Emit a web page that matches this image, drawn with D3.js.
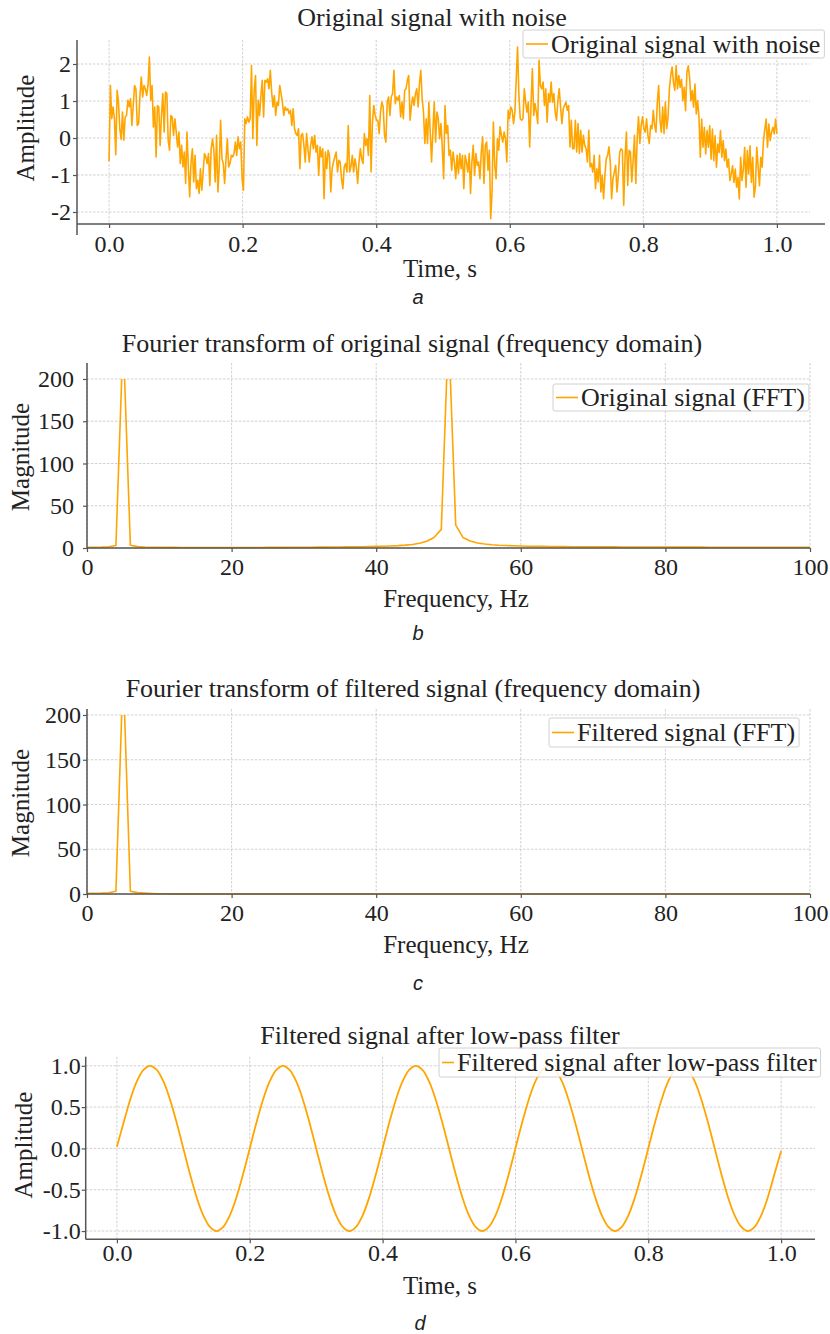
<!DOCTYPE html>
<html>
<head>
<meta charset="utf-8">
<script src="https://cdn.jsdelivr.net/npm/d3@7"></script>
<style>
  body { margin: 0; background: #fff; }
  svg { display: block; font-family: "Liberation Serif", "Times New Roman", serif; }
  .grid line { stroke: #c4c4c4; stroke-width: 0.8; stroke-dasharray: 2.5 1.5; }
  .spine { stroke: #555; stroke-width: 1.5; }
  .tick line { stroke: #555; stroke-width: 1.2; }
  .tick text { font-family: "Liberation Serif", "Times New Roman", serif; font-size: 24px; fill: #222; }
  .title, .legend text { font-size: 26px; fill: #222; }
  .axis-label { font-size: 25px; fill: #222; }
  .sub { font-family: "Liberation Sans", Arial, sans-serif; font-style: italic; font-size: 20px; fill: #222; }
</style>
</head>
<body>
<svg id="chart" width="830" height="1334"></svg>
<script>
// --- data ---

// a: noisy signal, ~500 samples over 1 s
const noisyAmp = [
  -0.63, 1.42, 0.52, 0.84, 0.52, -0.45, 1.29, 0.97, 0.25, -0.04,
  0.7, -0.06, 0.57, 0.61, 1.02, 0.84, 1.06, 0.34, 0.88, 1.42,
  1.33, 0.34, 0.39, 1.15, 1.65, 1.11, 1.42, 1.33, 1.15, 1.42,
  2.19, 1.02, 1.42, 0.3, 0.84, -0.51, 0.88, 0.84, -0.2, 0.61,
  1.2, 0.16, 1.24, 1.2, -0.06, -0.33, 0.61, 0.57, 0.07, 0.52,
  0.16, -0.24, 0.16, -0.69, -0.2, -0.78, -0.38, -1.23, 0.16, -0.78,
  -1.59, -0.65, -0.29, -1.19, -0.47, -1.37, -1.14, -1.5, -0.83, -1.41,
  -0.92, -0.42, -0.51, -0.69, -0.42, -1.28, -0.29, -0.02, -0.33, -1.19,
  0.07, -1.46,
  -0.78, 0.48, -0.56, -0.69, -1.23, -0.6, -0.02, -0.78, -0.69, -0.47,
  -0.51, -0.42, -0.11, -0.47, 0.03, -0.29, -0.11, -1.1, -1.41, 0.52,
  0.39, 0.57, 0.43, 0.52, 1.96, -0.02, 1.29, 1.69, -0.2, 1.02,
  0.61, 1.15, 1.56, 0.57, 1.56, 1.51, 1.6, 1.33, 1.83, 1.24,
  0.84, 1.15, 0.61, 0.97, 0.88, 1.42, 1.2, 0.97, 0.61, 0.84,
  0.75, 0.79, 0.66, 0.75, 0.34, 0.79, 0.25, 0.12, 0.07, 0.25,
  -0.83, 0.07, 0.12, -0.2, -0.65, 0.12, -0.29, -0.65, -0.2, 0.03,
  -0.29, 0.07, -0.38, -0.2, -1.01, -0.24, -0.51, -0.29, -1.64, -0.38,
  -0.83, -0.33, -0.47,
  -1.46, -0.83, -0.65, -0.51, -0.38, -0.92, -0.6, -0.65, -1.1, -1.37,
  -0.78, -0.69, -0.92, 0.34, -0.92, -0.78, -0.47, -0.92, -0.56, -0.78,
  -1.23, -0.65, -0.29, -0.56, -0.69, 0.12, -0.2, -0.02, -0.47, 1.15,
  -0.92, 0.43, 0.88, 0.61, 0.48, 0.48, 0.12, 0.7, 0.97, 0.84,
  0.07, -0.11, 0.97, 1.11, 0.61, 1.11, 1.2, 1.83, 0.93, 1.11,
  1.02, 1.15, 0.57, 0.97, 0.52, 1.29, 1.33, 1.56, 1.69, 0.48,
  0.88, 1.11, 0.88, 1.2, 1.33, 0.84, 1.47, 1.83, 1.06, 0.7,
  -0.15, 0.52, -0.15, 0.97, 0.16, -0.65, 0.21, 0.97, -0.11, 0.7,
  0.52, -0.02, 0.39, -0.29, -1.1, 0.88, 0.12,
  0.34, -0.47, -0.33, -0.87, -0.38, -0.65, -1.1, -0.47, -0.96, -0.42,
  -0.83, -0.47, -1.37, -0.47, -0.65, -0.92, -0.42, -1.5, -0.65, -0.2,
  -1.01, -0.42, -0.74, -0.65, -1.1, -0.38, 0.03, -1.23, -0.2, -0.11,
  -0.87, -0.33, -2.18, -1.46, 0.43, -0.74, -1.1, -0.02, -0.33, 0.3,
  0.07, -0.11, 0.16, -0.02, -0.65, 0.75, 0.52, 0.84, 0.75, 0.39,
  0.7, 1.6, 2.46, 1.15, 0.52, 0.48, 0.52, 1.33, 0.97, 0.7,
  0.97, -0.24, 0.88, 1.87, 0.61, 0.93, 0.7, 0.39, 2.1, 1.42,
  1.33, 1.51, 0.88, 1.33, 0.43, 1.2, 0.97, 1.51, 0.97, 1.2,
  0.7, 0.48, 1.02, 1.33, 0.84, 0.39, 0.79,
  0.88, 0.97, 0.75, 0.88, -0.24, 0.48, -0.29, -0.29, 0.48, -0.38,
  0.39, -0.42, 0.21, -0.38, 0.07, -0.2, -0.29, -0.65, 0.21, -0.78,
  -0.69, -0.92, -0.47, -1.37, -0.83, -1.19, -0.47, -1.46, -1.01, -1.64,
  -1.01, -0.56, -0.47, -0.24, -0.65, -1.64, -1.1, -0.92, -0.74, -1.46,
  -1.01, -0.38, -0.29, -0.33, -1.82, -0.51, 0.16, -1.28, -0.33, -0.38,
  -1.19, -0.6, 0.07, -1.23, -0.02, 0.57, -0.15, 0.34, 0.57, 0.25,
  0.16, 0.52, 0.07, -0.15, 0.34, 0.25, 0.75, 0.34, 0.16, 0.97,
  1.42, 0.48, 0.16, 0.84, 0.12, 0.97, 0.25, 0.57, 1.33, 1.69,
  1.92, 1.51, 1.29, 1.96, 1.33, 1.69,
  1.37, 1.59, 1.01, 1.37, 0.74, 1.77, 1.95, 1.64, 1.01, 1.28,
  0.83, 1.46, 0.65, 1.01, 0.56, -0.52, 0.51, -0.25, 0.29, -0.43,
  0.2, -0.25, 0.33, -0.57, 0.24, -0.61, 0.06, -0.79, -0.16, -0.39,
  0.2, -0.52, -0.07, -0.61, -0.3, -0.79, -0.57, -1.15, -0.97, -0.75,
  -1.2, -0.84, -1.33, -1.06, -1.65, -0.52, -1.15, -0.84, -0.25, -1.33,
  -0.34, -0.97, -0.21, -1.2, -0.52, -1.6, -1.33, -0.25, -0.75, -1.29,
  -0.52, -0.79, -0.07, 0.24, 0.51, -0.25, 0.38, -0.07, 0.15, 0.29,
  0.11, 0.51, 0.11
];
const noisyTime = noisyAmp.map((_, i) => i / (noisyAmp.length - 1));

// b, c: FFT magnitude, 1 Hz bins from 0 to 100 Hz
const freqBins = d3.range(0, 101);
const origFftMag = [
  0.8, 0.9, 1.0, 1.4, 3.0, 250, 3.2, 1.6, 1.1, 0.9,
  0.8, 0.7, 0.7, 0.6, 0.6, 0.6, 0.6, 0.6, 0.6, 0.6,
  0.6, 0.6, 0.6, 0.6, 0.6, 0.7, 0.7, 0.7, 0.8, 0.8,
  0.9, 0.9, 1.0, 1.0, 1.1, 1.2, 1.3, 1.4, 1.5, 1.7,
  1.9, 2.1, 2.4, 2.8, 3.4, 4.2, 5.6, 8.0, 12.5, 22,
  260, 27, 12.5, 8.2, 6.0, 4.8, 3.9, 3.3, 2.9, 2.6,
  2.3, 2.1, 2.0, 1.9, 1.8, 1.7, 1.6, 1.5, 1.5, 1.4,
  1.4, 1.3, 1.3, 1.3, 1.2, 1.2, 1.2, 1.1, 1.1, 1.1,
  1.1, 1.0, 1.0, 1.0, 1.0, 1.0, 0.9, 0.9, 0.9, 0.9,
  0.9, 0.9, 0.9, 0.9, 0.8, 0.8, 0.8, 0.8, 0.8, 0.8,
  0.8
];
const filtFftMag = [
  0.8, 0.9, 1.0, 1.4, 3.0, 250, 3.1, 1.5, 1.0, 0.6,
  0.3, 0.2, 0.1, 0.1, 0.1, 0.1, 0, 0, 0, 0,
  0, 0, 0, 0, 0, 0, 0, 0, 0, 0,
  0, 0, 0, 0, 0, 0, 0, 0, 0, 0,
  0, 0, 0, 0, 0, 0, 0, 0, 0, 0,
  0, 0, 0, 0, 0, 0, 0, 0, 0, 0,
  0, 0, 0, 0, 0, 0, 0, 0, 0, 0,
  0, 0, 0, 0, 0, 0, 0, 0, 0, 0,
  0, 0, 0, 0, 0, 0, 0, 0, 0, 0,
  0, 0, 0, 0, 0, 0, 0, 0, 0, 0,
  0
];

// d: filtered signal, every 0.01 s
const filteredAmp = [
  0.02, 0.31, 0.59, 0.81, 0.95, 1.00, 0.95, 0.81, 0.59, 0.31,
  0.00, -0.31, -0.59, -0.81, -0.95, -1.00, -0.95, -0.81, -0.59, -0.31,
  0.00, 0.31, 0.59, 0.81, 0.95, 1.00, 0.95, 0.81, 0.59, 0.31,
  0.00, -0.31, -0.59, -0.81, -0.95, -1.00, -0.95, -0.81, -0.59, -0.31,
  0.00, 0.31, 0.59, 0.81, 0.95, 1.00, 0.95, 0.81, 0.59, 0.31,
  0.00, -0.31, -0.59, -0.81, -0.95, -1.00, -0.95, -0.81, -0.59, -0.31,
  0.00, 0.31, 0.59, 0.81, 0.95, 1.00, 0.95, 0.81, 0.59, 0.31,
  0.00, -0.31, -0.59, -0.81, -0.95, -1.00, -0.95, -0.81, -0.59, -0.31,
  0.00, 0.31, 0.59, 0.81, 0.95, 1.00, 0.95, 0.81, 0.59, 0.31,
  0.00, -0.31, -0.59, -0.81, -0.95, -1.00, -0.95, -0.81, -0.59, -0.31,
  -0.03
];
const filteredTime = filteredAmp.map((_, i) => i / 100);

// tick labels
const timeTicks = [0, 0.2, 0.4, 0.6, 0.8, 1.0];
const freqTicks = [0, 20, 40, 60, 80, 100];
const noisyTicks = [-2, -1, 0, 1, 2];
const magTicks = [0, 50, 100, 150, 200];
const filtTicks = [-1, -0.5, 0, 0.5, 1];

const LINE_COLOR = "#FFA500";
const svg = d3.select("#chart");
const fmt1 = d3.format(".1f");
const fmtInt = d => String(d);
const fmtHyphen1 = d => fmt1(d).replace("\u2212", "-");

let clipId = 0;

function drawPanel(o) {
  const x = d3.scaleLinear().domain(o.xDomain).range(o.xRange);
  const y = d3.scaleLinear().domain(o.yDomain).range(o.yRange);
  const [x0] = o.xRange;
  const [yb, yt] = o.yRange;
  const g = svg.append("g");

  // grid
  const grid = g.append("g").attr("class", "grid");
  grid.selectAll("line.v").data(o.xTicks).join("line").attr("class", "v")
    .attr("x1", d => x(d)).attr("x2", d => x(d)).attr("y1", yt).attr("y2", yb);
  grid.selectAll("line.h").data(o.yTicks).join("line").attr("class", "h")
    .attr("x1", x0).attr("x2", o.gridRight).attr("y1", d => y(d)).attr("y2", d => y(d));

  // data
  const id = "clip" + (clipId++);
  const clipTop = o.clipMax != null ? y(o.clipMax) : 0;
  g.append("clipPath").attr("id", id).append("rect")
    .attr("x", x0).attr("y", clipTop).attr("width", o.xRange[1] - x0).attr("height", yb - clipTop + 2);
  const line = d3.line().x(d => x(d[0])).y(d => y(d[1])).curve(o.curve || d3.curveLinear);
  g.append("path")
    .datum(d3.zip(o.xs, o.ys))
    .attr("clip-path", `url(#${id})`)
    .attr("fill", "none")
    .attr("stroke", LINE_COLOR)
    .attr("stroke-width", o.lineWidth)
    .attr("stroke-linejoin", "round")
    .attr("d", line);

  // axes
  g.append("g").attr("transform", `translate(0,${yb})`)
    .call(d3.axisBottom(x).tickValues(o.xTicks).tickFormat(o.xFmt).tickSize(4).tickPadding(o.xPad))
    .call(a => a.select(".domain").remove());
  g.append("g").attr("transform", `translate(${x0},0)`)
    .call(d3.axisLeft(y).tickValues(o.yTicks).tickFormat(o.yFmt).tickSize(4).tickPadding(o.yPad))
    .call(a => a.select(".domain").remove());

  // spines
  g.append("line").attr("class", "spine")
    .attr("x1", x0).attr("x2", o.spineRight).attr("y1", yb).attr("y2", yb);
  g.append("line").attr("class", "spine")
    .attr("x1", x0).attr("x2", x0).attr("y1", o.spineTop).attr("y2", o.spineBottom);

  // texts
  g.append("text").attr("class", "title").attr("text-anchor", "middle")
    .attr("x", o.title[1]).attr("y", o.title[2]).attr("dy", "0.35em").text(o.title[0]);
  g.append("text").attr("class", "axis-label").attr("text-anchor", "middle")
    .attr("x", o.xLabel[1]).attr("y", o.xLabel[2]).attr("dy", "0.35em").text(o.xLabel[0]);
  g.append("text").attr("class", "axis-label").attr("text-anchor", "middle")
    .attr("transform", `translate(${o.yLabel[1]},${o.yLabel[2]}) rotate(-90)`)
    .attr("dy", "0.35em").text(o.yLabel[0]);
  g.append("text").attr("class", "sub").attr("text-anchor", "middle")
    .attr("x", o.sub[1]).attr("y", o.sub[2]).attr("dy", "0.35em").text(o.sub[0]);

  // legend
  const L = o.legend;
  const lg = g.append("g").attr("class", "legend");
  const box = lg.append("rect")
    .attr("x", L.x).attr("y", L.y).attr("height", L.h).attr("rx", 2)
    .attr("fill", "#fff").attr("fill-opacity", 0.85)
    .attr("stroke", "#d0d0d0").attr("stroke-width", 1);
  lg.append("line")
    .attr("x1", L.x + 3).attr("x2", L.x + 3 + L.lineLen)
    .attr("y1", L.y + L.h / 2).attr("y2", L.y + L.h / 2)
    .attr("stroke", LINE_COLOR).attr("stroke-width", 1.6);
  const tx = L.x + 3 + L.lineLen + 3;
  const t = lg.append("text").attr("x", tx).attr("y", L.y + L.h / 2).attr("dy", "0.33em").text(L.text);
  box.attr("width", tx - L.x + t.node().getComputedTextLength() + 4);
}

drawPanel({
  xs: noisyTime, ys: noisyAmp, lineWidth: 1.6,
  xDomain: [-0.048, 1.072], xRange: [77, 825],
  yDomain: [-2.324, 2.649], yRange: [224, 40],
  xTicks: timeTicks, yTicks: noisyTicks, xFmt: fmt1, yFmt: fmtInt,
  xPad: 7, yPad: 2,
  gridRight: 810, spineRight: 825, spineTop: 40, spineBottom: 235,
  title: ["Original signal with noise", 432, 17],
  xLabel: ["Time, s", 440, 268],
  yLabel: ["Amplitude", 25, 128],
  sub: ["a", 418, 297],
  legend: { text: "Original signal with noise", x: 523, y: 30, h: 28, lineLen: 22 }
});

drawPanel({
  xs: freqBins, ys: origFftMag, lineWidth: 1.6, clipMax: 200,
  xDomain: [0, 100], xRange: [87, 810],
  yDomain: [0, 218.9], yRange: [548, 363],
  xTicks: freqTicks, yTicks: magTicks, xFmt: fmtInt, yFmt: fmtInt,
  xPad: 6, yPad: 9,
  gridRight: 810, spineRight: 810, spineTop: 363, spineBottom: 548,
  title: ["Fourier transform of original signal (frequency domain)", 412, 343],
  xLabel: ["Frequency, Hz", 456, 598],
  yLabel: ["Magnitude", 20, 457],
  sub: ["b", 418, 633],
  legend: { text: "Original signal (FFT)", x: 553, y: 384, h: 27, lineLen: 22 }
});

drawPanel({
  xs: freqBins, ys: filtFftMag, lineWidth: 1.6, clipMax: 200,
  xDomain: [0, 100], xRange: [87, 810],
  yDomain: [0, 206.7], yRange: [894, 709],
  xTicks: freqTicks, yTicks: magTicks, xFmt: fmtInt, yFmt: fmtInt,
  xPad: 6, yPad: 2,
  gridRight: 810, spineRight: 810, spineTop: 709, spineBottom: 894,
  title: ["Fourier transform of filtered signal (frequency domain)", 413, 688],
  xLabel: ["Frequency, Hz", 456, 944],
  yLabel: ["Magnitude", 20, 803],
  sub: ["c", 418, 983],
  legend: { text: "Filtered signal (FFT)", x: 549, y: 718, h: 29, lineLen: 22 }
});

drawPanel({
  xs: filteredTime, ys: filteredAmp, lineWidth: 1.8, curve: d3.curveCatmullRom,
  xDomain: [-0.047, 1.051], xRange: [85.7, 815],
  yDomain: [-1.1, 1.11], yRange: [1239.3, 1056.7],
  xTicks: timeTicks, yTicks: filtTicks, xFmt: fmt1, yFmt: fmtHyphen1,
  xPad: 1, yPad: 1,
  gridRight: 815, spineRight: 815, spineTop: 1056.7, spineBottom: 1239.3,
  title: ["Filtered signal after low-pass filter", 440, 1035],
  xLabel: ["Time, s", 440, 1285],
  yLabel: ["Amplitude", 23, 1145],
  sub: ["d", 420, 1323],
  legend: { text: "Filtered signal after low-pass filter", x: 439, y: 1048, h: 29, lineLen: 12 }
});
</script>
</body>
</html>
